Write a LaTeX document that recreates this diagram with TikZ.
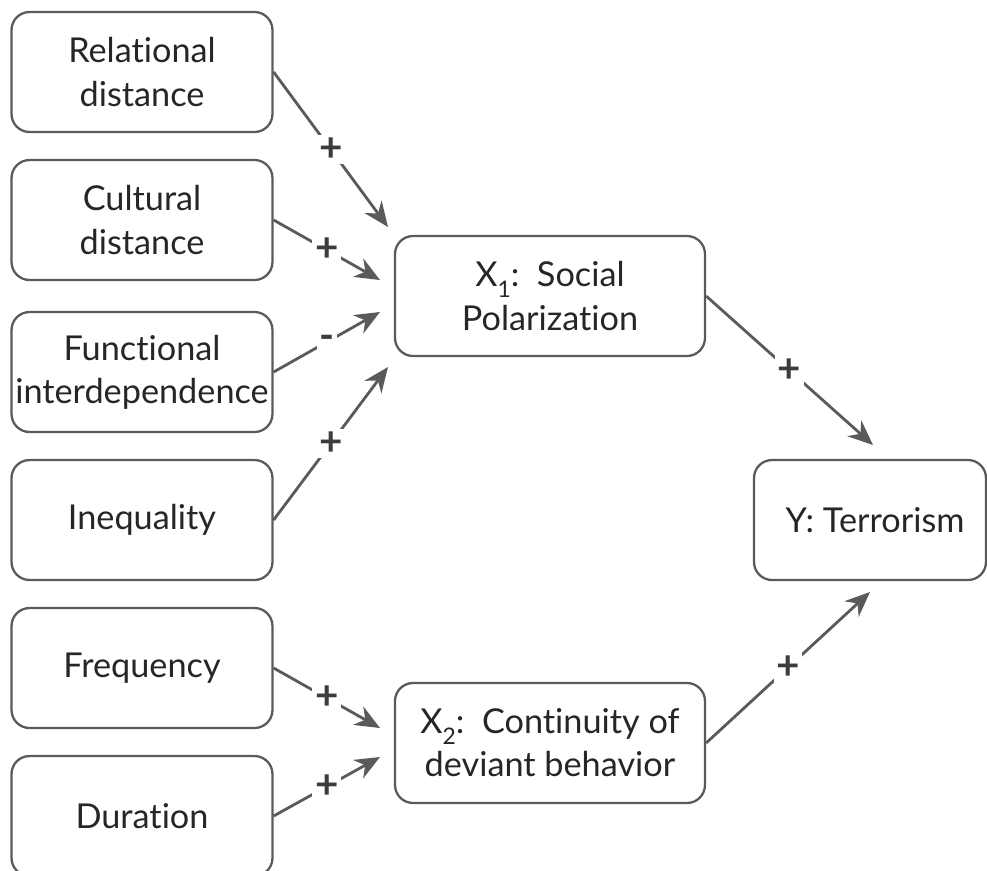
\documentclass[tikz,border=0pt]{standalone}
\usepackage{fontspec}
\setmainfont{Lato}[Ligatures=NoCommon]
\usetikzlibrary{arrows.meta}
\definecolor{linegray}{RGB}{90,90,90}
\definecolor{signgray}{RGB}{60,60,60}
\newcommand{\lowsub}[1]{\raisebox{-0.6ex}{\fontsize{13}{13}\selectfont #1}}
\tikzset{
  factor/.style={draw=linegray, line width=1.3pt, rounded corners=0.36cm,
    minimum width=5.22cm, minimum height=2.4cm, align=center, inner sep=2pt,
    font=\fontsize{19.5}{24.5}\selectfont, text=black!85},
  link/.style={draw=linegray, line width=1.6pt, -{Stealth[length=0.5cm,width=0.42cm]}},
  sign/.style={fill=white, inner sep=1.5pt, font=\fontsize{23}{23}\selectfont\bfseries, text=signgray}
}
\begin{document}
\begin{tikzpicture}[x=0.02cm, y=-0.02cm]
    \useasboundingbox (0,0) rectangle (987,870);

    % Causas
    \node[factor] (relational) at (142,72) {Relational\\distance};
    \node[factor] (cultural) at (142,220) {Cultural\\distance};
    \node[factor] (functional) at (142,372) {Functional\\interdependence};
    \node[factor] (inequality) at (142,520) {Inequality};
    \node[factor] (frequency) at (142,668) {Frequency};
    \node[factor] (duration) at (142,816) {Duration};

    % Variables intermedias y resultado
    \node[factor, minimum width=6.2cm] (polar) at (550,296) {X\lowsub{1}:\ \ Social\\Polarization};
    \node[factor, minimum width=6.2cm] (contin) at (550,743) {X\lowsub{2}:\ \ Continuity of\\deviant behavior};
    \node[factor, minimum width=4.64cm] (terror) at (870,520) {\hspace*{0.2cm}Y: Terrorism};

    % Puntas de flecha
    \coordinate (tipA) at (388,227);
    \coordinate (tipB) at (380,280);
    \coordinate (tipC) at (380,312);
    \coordinate (tipD) at (388,367);
    \coordinate (tipE) at (380,728);
    \coordinate (tipF) at (380,757);
    \coordinate (tipG) at (873,445);
    \coordinate (tipH) at (870,592);

    % Flechas con signos
    \draw[link] (relational.east) -- node[sign] {+} (tipA);
    \draw[link] (cultural.east) -- node[sign] {+} (tipB);
    \draw[link] (functional.east) -- node[sign] {-} (tipC);
    \draw[link] (inequality.east) -- node[sign] {+} (tipD);
    \draw[link] (frequency.east) -- node[sign] {+} (tipE);
    \draw[link] (duration.east) -- node[sign] {+} (tipF);
    \draw[link] (polar.east) -- node[sign] {+} (tipG);
    \draw[link] (contin.east) -- node[sign] {+} (tipH);
\end{tikzpicture}
\end{document}
